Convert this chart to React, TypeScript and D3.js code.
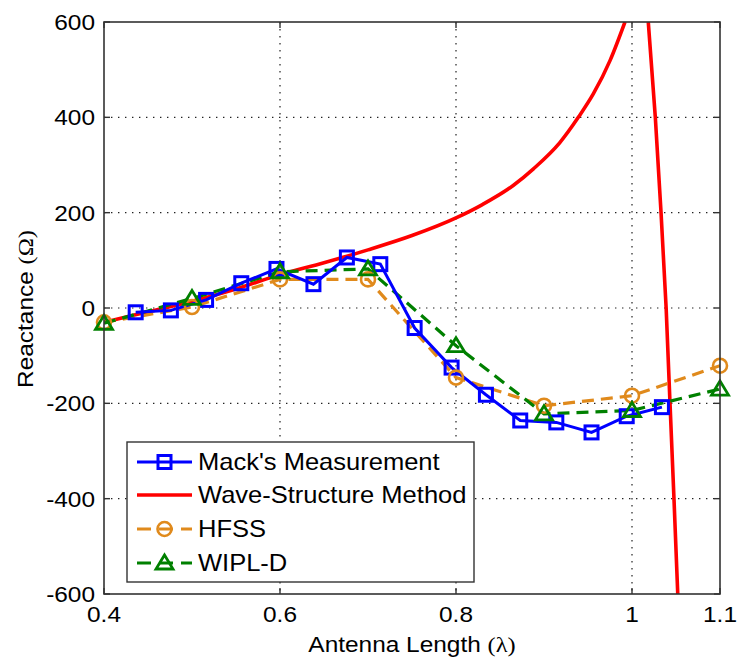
import React from "react";
import * as d3 from "d3";

const xTicks = [0.4, 0.6, 0.8, 1.0, 1.1];
const xTickLabels = ["0.4", "0.6", "0.8", "1", "1.1"];
const yTicks = [600, 400, 200, 0, -200, -400, -600];

const mackX = [0.436, 0.476, 0.516, 0.556, 0.596, 0.638, 0.676, 0.714, 0.753, 0.795, 0.834, 0.873, 0.914, 0.954, 0.994, 1.034];
const mackY = [-9, -5, 17, 52, 82, 50, 106, 92, -42, -125, -182, -236, -240, -261, -227, -208];

const waveLeftX = [0.4, 0.45, 0.5, 0.55, 0.6, 0.65, 0.7, 0.75, 0.8, 0.83, 0.865, 0.888, 0.918, 0.939, 0.956, 0.975, 0.992];
const waveLeftY = [-30, -8, 14, 40, 70, 95, 122, 152, 189, 217, 257, 292, 347, 400, 449, 519, 600];
const waveRightX = [1.0185, 1.0265, 1.033, 1.0388, 1.0432, 1.0477, 1.052];
const waveRightY = [600, 400, 200, 0, -200, -400, -600];

const simX = [0.4, 0.5, 0.6, 0.7, 0.8, 0.9, 1.0, 1.1];
const hfssY = [-30, 2, 60, 60, -146, -205, -184, -121];
const wiplY = [-32, 20, 76, 82, -79, -222, -215, -170];

const legendLabels = ["Mack's Measurement", "Wave-Structure Method", "HFSS", "WIPL-D"];

const W = 739;
const H = 661;
const M = { left: 104, right: 720, top: 22, bottom: 594 };
const BLUE = "#0000FF";
const RED = "#FF0000";
const ORANGE = "#E08A1C";
const GREEN = "#008000";
const FONT = "'Liberation Sans', Arial, sans-serif";
const SX = 1.11;

function T(props: {
  x: number;
  y: number;
  size: number;
  anchor?: string;
  dy?: string;
  rotate?: number;
  children: React.ReactNode;
}) {
  const { x, y, size, anchor, dy, rotate, children } = props;
  const tr = rotate ? `translate(${x},${y}) rotate(${rotate}) scale(${SX},1)` : `translate(${x},${y}) scale(${SX},1)`;
  return (
    <text transform={tr} fontSize={size} textAnchor={anchor || "start"} dy={dy} fill="#000">
      {children}
    </text>
  );
}

export default function App() {
  const x = d3.scaleLinear().domain([0.4, 1.1]).range([M.left, M.right]);
  const y = d3.scaleLinear().domain([-600, 600]).range([M.bottom, M.top]);
  const pts = (xs: number[], ys: number[]) => xs.map((v, i) => [v, ys[i]] as [number, number]);
  const straight = d3.line<[number, number]>().x((d) => x(d[0])).y((d) => y(d[1]));
  const smooth = d3
    .line<[number, number]>()
    .x((d) => x(d[0]))
    .y((d) => y(d[1]))
    .curve(d3.curveMonotoneX);

  const mack = pts(mackX, mackY);
  const hfss = pts(simX, hfssY);
  const wipl = pts(simX, wiplY);

  const square = (cx: number, cy: number, k: string | number, c: string) => (
    <rect key={k} x={cx - 6.5} y={cy - 6.5} width={13} height={13} fill="none" stroke={c} strokeWidth={3} />
  );
  const circle = (cx: number, cy: number, k: string | number, c: string) => (
    <circle key={k} cx={cx} cy={cy} r={7} fill="none" stroke={c} strokeWidth={2.6} />
  );
  const tri = (cx: number, cy: number, k: string | number, c: string) => (
    <path
      key={k}
      d={`M${cx},${cy - 8} L${cx + 8.5},${cy + 6} L${cx - 8.5},${cy + 6} Z`}
      fill="none"
      stroke={c}
      strokeWidth={2.8}
      strokeLinejoin="miter"
    />
  );

  const legX0 = 137;
  const legX1 = 192;
  const legMid = (legX0 + legX1) / 2;
  const legRows = [462, 495, 529, 563];

  return (
    <svg
      width={W}
      height={H}
      style={{ position: "absolute", left: 0, top: 0, background: "#fff" }}
      fontFamily={FONT}
    >
      <defs>
        <clipPath id="plotClip">
          <rect x={M.left} y={M.top} width={M.right - M.left} height={M.bottom - M.top} />
        </clipPath>
      </defs>
      {/* grid */}
      <g stroke="#222" strokeWidth={1.2} strokeDasharray="1.4,5.6">
        {xTicks.slice(1, -1).map((t) => (
          <line key={"gx" + t} x1={x(t)} x2={x(t)} y1={M.top} y2={M.bottom} />
        ))}
        {yTicks.slice(1, -1).map((t) => (
          <line key={"gy" + t} x1={M.left} x2={M.right} y1={y(t)} y2={y(t)} />
        ))}
      </g>
      {/* data */}
      <g clipPath="url(#plotClip)">
        <path d={smooth(pts(waveLeftX, waveLeftY)) || ""} fill="none" stroke={RED} strokeWidth={3.6} />
        <path d={straight(pts(waveRightX, waveRightY)) || ""} fill="none" stroke={RED} strokeWidth={3.6} />
        <path d={straight(hfss) || ""} fill="none" stroke={ORANGE} strokeWidth={3.2} strokeDasharray="12,7" />
        <path d={straight(wipl) || ""} fill="none" stroke={GREEN} strokeWidth={3.2} strokeDasharray="12,7" />
        <path d={straight(mack) || ""} fill="none" stroke={BLUE} strokeWidth={3} />
      </g>
      <g>
        {mack.map((d, i) => square(x(d[0]), y(d[1]), "m" + i, BLUE))}
        {hfss.map((d, i) => circle(x(d[0]), y(d[1]), "h" + i, ORANGE))}
        {wipl.map((d, i) => tri(x(d[0]), y(d[1]), "w" + i, GREEN))}
      </g>
      {/* axes box */}
      <rect x={M.left} y={M.top} width={M.right - M.left} height={M.bottom - M.top} fill="none" stroke="#333" strokeWidth={1.6} />
      <g stroke="#333" strokeWidth={1.4}>
        {xTicks.map((t) => (
          <g key={"tx" + t}>
            <line x1={x(t)} x2={x(t)} y1={M.bottom} y2={M.bottom - 6} />
            <line x1={x(t)} x2={x(t)} y1={M.top} y2={M.top + 6} />
          </g>
        ))}
        {yTicks.map((t) => (
          <g key={"ty" + t}>
            <line x1={M.left} x2={M.left + 6} y1={y(t)} y2={y(t)} />
            <line x1={M.right} x2={M.right - 6} y1={y(t)} y2={y(t)} />
          </g>
        ))}
      </g>
      {/* tick labels */}
      {xTicks.map((t, i) => (
        <T key={"lx" + t} x={x(t)} y={622} size={22} anchor="middle">
          {xTickLabels[i]}
        </T>
      ))}
      {yTicks.map((t) => (
        <T key={"ly" + t} x={95} y={y(t)} size={22} anchor="end" dy="0.36em">
          {String(t)}
        </T>
      ))}
      {/* axis labels */}
      <T x={(M.left + M.right) / 2} y={652} size={22} anchor="middle">
        Antenna Length <tspan fontFamily="'Liberation Serif', serif">(λ)</tspan>
      </T>
      <T x={33} y={309} size={22} anchor="middle" rotate={-90}>
        Reactance <tspan fontFamily="'Liberation Serif', serif">(Ω)</tspan>
      </T>
      {/* legend */}
      <rect x={127} y={442} width={347} height={140} fill="#fff" stroke="#333" strokeWidth={1.4} />
      <line x1={legX0} x2={legX1} y1={legRows[0]} y2={legRows[0]} stroke={BLUE} strokeWidth={3} />
      {square(legMid, legRows[0], "lm", BLUE)}
      <line x1={legX0} x2={legX1} y1={legRows[1]} y2={legRows[1]} stroke={RED} strokeWidth={3.6} />
      <line x1={legX0} x2={legX1} y1={legRows[2]} y2={legRows[2]} stroke={ORANGE} strokeWidth={3.2} strokeDasharray="14,8" />
      {circle(legMid, legRows[2], "lh", ORANGE)}
      <line x1={legX0} x2={legX1} y1={legRows[3]} y2={legRows[3]} stroke={GREEN} strokeWidth={3.2} strokeDasharray="14,8" />
      {tri(legMid, legRows[3], "lw", GREEN)}
      {legendLabels.map((l, i) => (
        <T key={l} x={198} y={legRows[i]} size={23} dy="0.36em">
          {l}
        </T>
      ))}
    </svg>
  );
}
